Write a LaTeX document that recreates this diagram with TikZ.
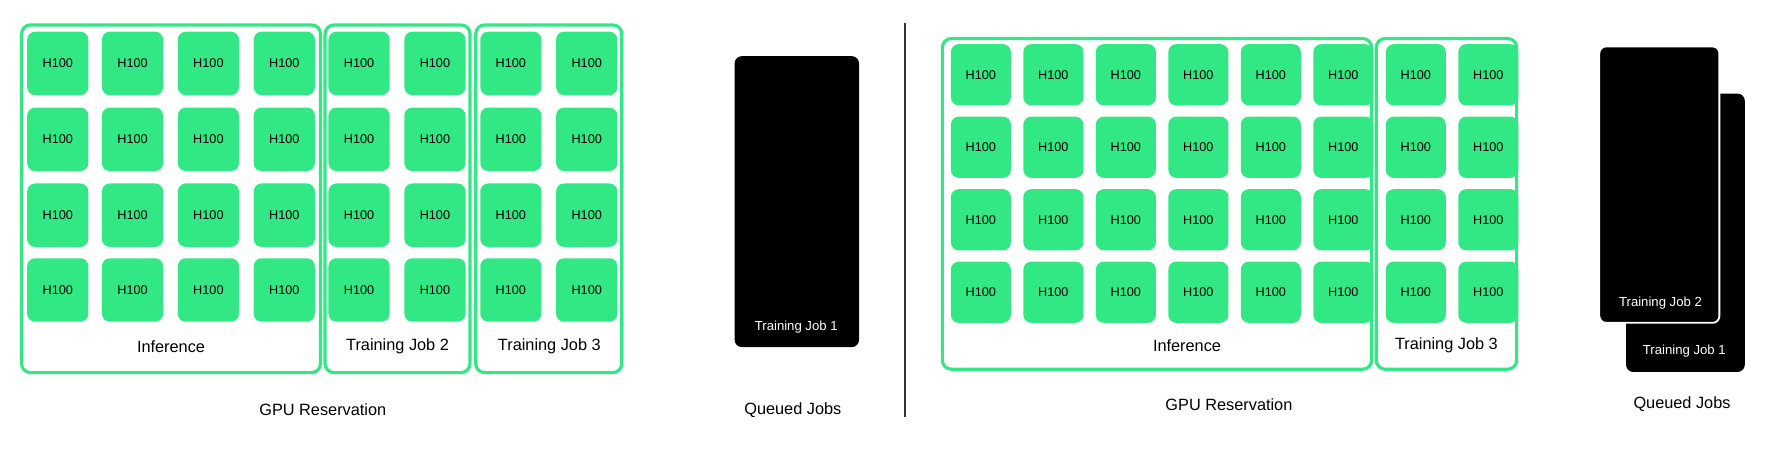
\documentclass[tikz,border=0pt]{standalone}
\usepackage{fontspec}
\setmainfont{Liberation Sans}
\definecolor{gpugreen}{RGB}{50,232,132}
\begin{document}
\begin{tikzpicture}[x=0.5pt,y=-0.5pt,
  tile/.style={fill=gpugreen,rounded corners=3.5pt,minimum width=26.5pt,minimum height=27pt,inner sep=0pt,font=\fontsize{5.6}{6}\selectfont},
  group/.style={draw=gpugreen,line width=1.4pt,rounded corners=4pt},
  lbl/.style={font=\fontsize{7.2}{8}\selectfont},
  job/.style={fill=black,rounded corners=3pt},
  jobtxt/.style={text=white,font=\fontsize{5.8}{7}\selectfont}]
\useasboundingbox (0,0) rectangle (1568,402);
% ---- left
\draw[group] (19,22) rectangle (283,329);
\draw[group] (287,22) rectangle (415,329);
\draw[group] (420,22) rectangle (549,329);
\foreach \c/\x in {1/51,2/117,3/184,4/251,5/317,6/384,7/451,8/518}{
  \foreach \r/\y in {1/56,2/123,3/190,4/256}{
    \node[tile,minimum width=27pt,minimum height=28pt] (L\c\r) at (\x,\y) {H100};
  }}
\node[lbl] (linf) at (151,306) {Inference};
\node[lbl] (ltj2) at (351,306) {Training Job 2};
\node[lbl] (ltj3) at (485,306) {Training Job 3};
\node[lbl] (lgpu) at (285,362) {GPU Reservation};
\draw[job] (649,50) rectangle (758,306);
\node[jobtxt] (lq1) at (703,289) {Training Job 1};
\node[lbl] (lq) at (700,362) {Queued Jobs};
% ---- divider
\draw[line width=0.6pt,black!80] (799,20) -- (799,368);
% ---- right
\draw[group] (832,34) rectangle (1211,326);
\draw[group] (1215,34) rectangle (1339,326);
\foreach \c/\x in {1/866,2/930,3/994,4/1058,5/1122,6/1186,7/1250,8/1314}{
  \foreach \r/\y in {1/66,2/130,3/194,4/258}{
    \node[tile] (R\c\r) at (\x,\y) {H100};
  }}
\node[lbl] (rinf) at (1048,305) {Inference};
\node[lbl] (rtj3) at (1277,305) {Training Job 3};
\node[lbl] (rgpu) at (1085,357) {GPU Reservation};
\draw[job] (1436,83) rectangle (1540,328);
\node[jobtxt] (rq1) at (1487,310) {Training Job 1};
\draw[job,draw=white,line width=0.8pt] (1412,41) rectangle (1518,285);
\node[jobtxt] (rq2) at (1466,268) {Training Job 2};
\node[lbl] (rq) at (1485,357) {Queued Jobs};
\end{tikzpicture}
\end{document}
